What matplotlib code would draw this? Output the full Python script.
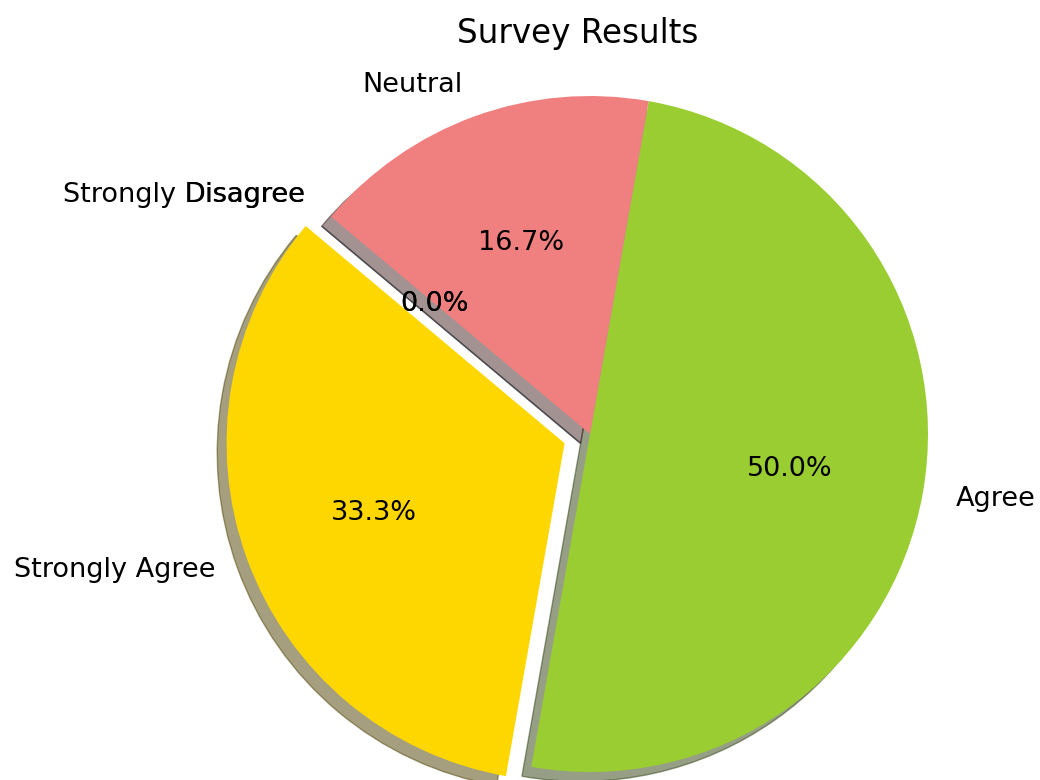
import matplotlib
matplotlib.use("Agg")
import matplotlib.pyplot as plt

# data
labels = ['Strongly Agree', 'Agree', 'Neutral', 'Disagree', 'Strongly Disagree']
counts = [2, 3, 1, 0, 0]
colors = ['gold', 'yellowgreen', 'lightcoral', 'lightskyblue', 'lightgrey']
explode = (0.08, 0, 0, 0, 0)

fig = plt.figure(figsize=(10.4, 7.8), dpi=100)
ax = fig.add_axes([0, 0, 1, 1])

# the two zero slices sit on top of each other, same as the reference
wedges, texts, autotexts = ax.pie(counts, explode=explode, labels=labels, colors=colors,
                                  autopct='%1.1f%%', shadow=True, startangle=140,
                                  textprops={'fontsize': 19.5})

# place the pie like the reference (radius ~338 px)
r = 338.0
cx, cy = 590.0, 346.0
ax.set_xlim(-cx / r, (1040 - cx) / r)
ax.set_ylim(-cy / r, (780 - cy) / r)
ax.set_aspect('equal')
ax.axis('off')

fig.text(578 / 1040, 1 - 33 / 780, 'Survey Results', fontsize=23.5, ha='center', va='center')

fig.savefig('out.png', dpi=100)
